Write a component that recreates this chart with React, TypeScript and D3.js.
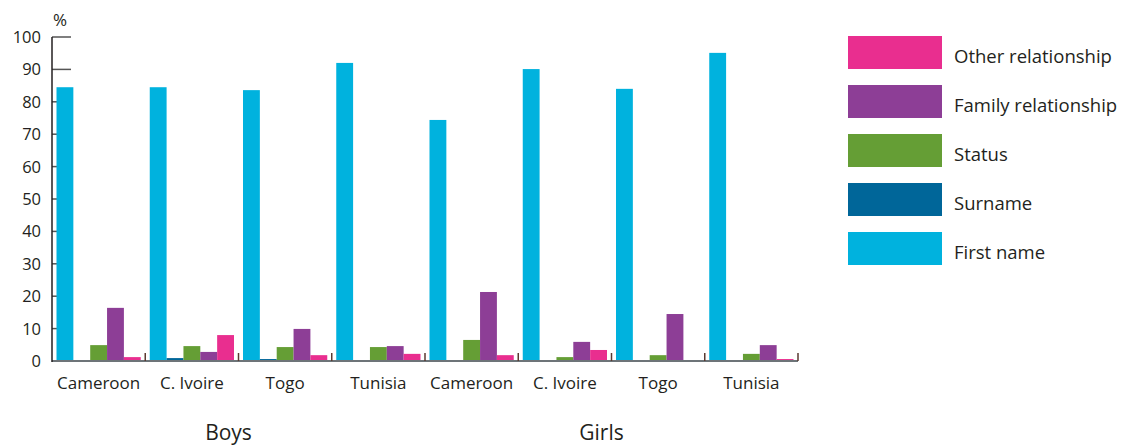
import React from "react";
import * as d3 from "d3";

const groups = ["Boys", "Girls"];
const countries = ["Cameroon", "C. Ivoire", "Togo", "Tunisia"];
const seriesNames = ["First name", "Surname", "Status", "Family relationship", "Other relationship"];
const seriesColors = ["#00b2de", "#006699", "#659e35", "#8d3e96", "#e92e8f"];
const legendOrder = ["Other relationship", "Family relationship", "Status", "Surname", "First name"];
const yTicks = [0, 10, 20, 30, 40, 50, 60, 70, 80, 90, 100];

// values per category (Boys x4 then Girls x4), per series
const firstName = [84.5, 84.5, 83.6, 92.0, 74.4, 90.1, 84.0, 95.1];
const surname = [0, 0.9, 0.6, 0, 0, 0, 0, 0];
const status = [4.9, 4.6, 4.3, 4.3, 6.5, 1.2, 1.8, 2.2];
const family = [16.4, 2.8, 9.9, 4.6, 21.3, 5.9, 14.5, 4.9];
const other = [1.2, 8.0, 1.8, 2.2, 1.8, 3.4, 0.3, 0.6];

const seriesValues = [firstName, surname, status, family, other];

const FONT = "'Open Sans', Lato, sans-serif";

export default function App() {
  const W = 1132, H = 445;
  const x0 = 52, x1 = 798, yTop = 37, yBot = 361;
  const cats = groups.flatMap((g) => countries.map((c) => `${g}|${c}`));
  const x = d3.scaleBand<string>().domain(cats).range([x0, x1]).paddingInner(0).paddingOuter(0);
  const xs = d3.scaleBand<string>().domain(seriesNames).range([4.5, x.bandwidth() - 4.5]).padding(0);
  const y = d3.scaleLinear().domain([0, 100]).range([yBot, yTop]);

  const legendY = d3.scaleBand<string>().domain(legendOrder).range([36, 36 + 49 * 5]).paddingInner(0);

  return (
    <svg width={W} height={H} style={{ position: "absolute", left: 0, top: 0, fontFamily: FONT }}>
      {/* y ticks (inward) */}
      {yTicks.map((t) => (
        <g key={t}>
          <line x1={x0} x2={x0 + 19} y1={y(t)} y2={y(t)} stroke="#555" strokeWidth={1.5} />
          <text x={41} y={y(t) + 6} textAnchor="end" fontSize={16.5} fill="#231f20">{t}</text>
        </g>
      ))}
      <text x={53} y={26} fontSize={17} fill="#231f20">%</text>

      {/* bars */}
      {cats.map((c, i) => (
        <g key={c} transform={`translate(${x(c)},0)`}>
          {seriesNames.map((s, j) => {
            const v = seriesValues[j][i];
            return (
              <rect key={s} x={xs(s)} width={xs.bandwidth()} y={y(v)} height={yBot - y(v)} fill={seriesColors[j]} />
            );
          })}
        </g>
      ))}

      {/* axes */}
      <line x1={x0} x2={x1} y1={yBot} y2={yBot} stroke="#6d7478" strokeWidth={2} />
      <line x1={x0} x2={x0} y1={yTop} y2={yBot + 1} stroke="#231f20" strokeWidth={1.5} />
      {cats.map((c) => (
        <line key={"t" + c} x1={(x(c) as number) + x.bandwidth()} x2={(x(c) as number) + x.bandwidth()} y1={yBot - 8} y2={yBot} stroke="#5a3a30" strokeWidth={1.5} />
      ))}

      {/* category labels */}
      {cats.map((c) => (
        <text key={"l" + c} x={(x(c) as number) + x.bandwidth() / 2} y={389} textAnchor="middle" fontSize={17} fill="#231f20">
          {c.split("|")[1]}
        </text>
      ))}
      {groups.map((g, gi) => {
        const first = x(`${g}|${countries[0]}`) as number;
        const last = (x(`${g}|${countries[countries.length - 1]}`) as number) + x.bandwidth();
        return (
          <text key={g} x={(first + last) / 2 - 10} y={440} textAnchor="middle" fontSize={21} fill="#231f20">{g}</text>
        );
      })}

      {/* legend */}
      {legendOrder.map((s) => {
        const j = seriesNames.indexOf(s);
        const ly = legendY(s) as number;
        return (
          <g key={s}>
            <rect x={848} y={ly} width={94} height={33} fill={seriesColors[j]} />
            <text x={954} y={ly + 27} fontSize={18.5} fill="#231f20">{s}</text>
          </g>
        );
      })}
    </svg>
  );
}
